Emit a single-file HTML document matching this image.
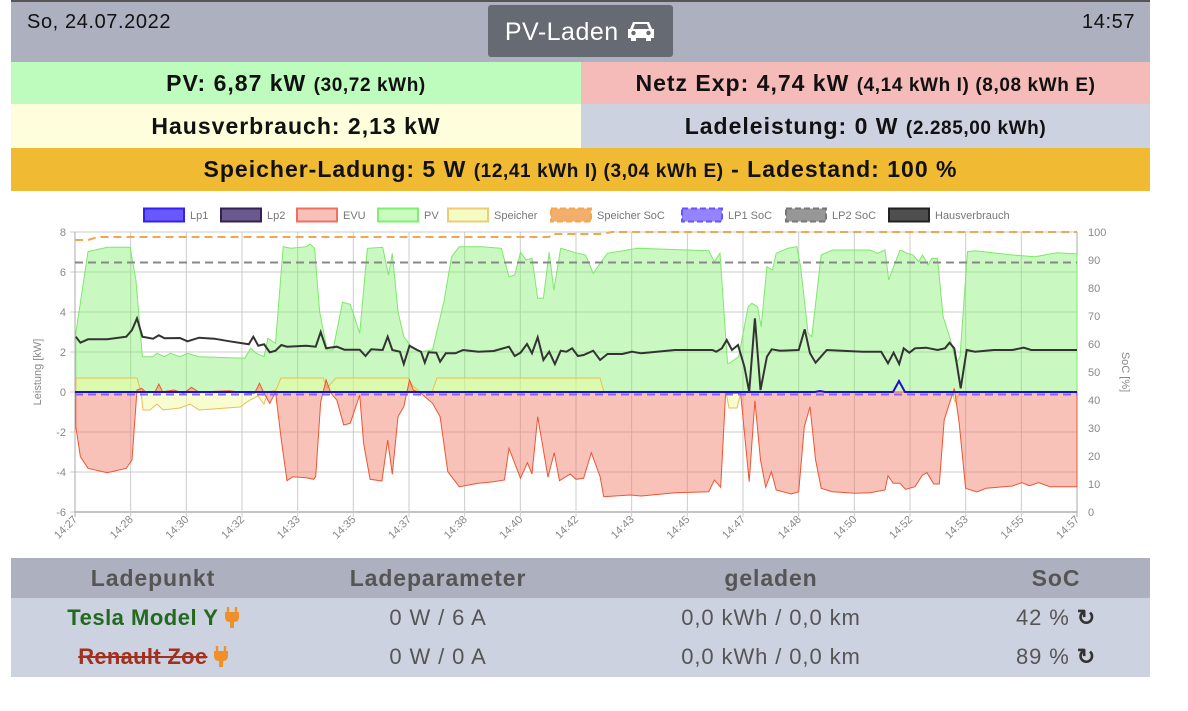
<!DOCTYPE html>
<html><head><meta charset="utf-8"><style>
*{margin:0;padding:0;box-sizing:border-box}
body{width:1188px;height:711px;background:#fff;font-family:"Liberation Sans",sans-serif;position:relative;overflow:hidden}
.abs{position:absolute}
.top{left:11px;top:0;width:1139px;height:62px;background:#adb1bf;border-top:2px solid #555}
.row{position:absolute;display:flex;align-items:center;justify-content:center;font-weight:bold;font-size:23px;letter-spacing:1px;color:#111;white-space:pre}
.row small{font-size:19px;letter-spacing:0.6px}
.th{position:absolute;top:558px;height:40px;line-height:40px;font-weight:bold;font-size:23px;letter-spacing:0.9px;color:#555;text-align:center}
.td{position:absolute;height:40px;line-height:40px;font-size:22px;letter-spacing:0.9px;color:#555;text-align:center}
</style></head><body>
<div class="abs top"></div>
<div class="abs" style="left:27px;top:11px;font-size:20px;letter-spacing:0.6px;color:#111">So, 24.07.2022</div>
<div class="abs" style="left:488px;top:5px;width:185px;height:52px;background:#666b73;border-radius:3px;color:#fff;font-size:25px;letter-spacing:0.5px;line-height:54px;text-align:center">PV-Laden <svg width="30" height="22" viewBox="0 0 30 22" style="vertical-align:-2px"><path d="M4 9 L7 2 H23 L26 9 H28 V18 H25 V21 H20 V18 H10 V21 H5 V18 H2 V9 Z" fill="#fff"/><path d="M9 4 H21 L23 9 H7 Z" fill="#666b73"/><circle cx="7.5" cy="13" r="2.2" fill="#666b73"/><circle cx="22.5" cy="13" r="2.2" fill="#666b73"/></svg></div>
<div class="abs" style="left:1082px;top:11px;font-size:20px;letter-spacing:0.6px;color:#111">14:57</div>
<div class="row" style="left:11px;top:62px;width:570px;height:42px;background:#bdfcbc"><span>PV: 6,87 kW <small>(30,72 kWh)</small></span></div>
<div class="row" style="left:581px;top:62px;width:569px;height:42px;background:#f5bbb8"><span>Netz Exp: 4,74 kW <small>(4,14 kWh I) (8,08 kWh E)</small></span></div>
<div class="row" style="left:11px;top:104px;width:570px;height:44px;background:#fefedc"><span>Hausverbrauch: 2,13 kW</span></div>
<div class="row" style="left:581px;top:104px;width:569px;height:44px;background:#cdd2e0"><span>Ladeleistung: 0 W <small>(2.285,00 kWh)</small></span></div>
<div class="row" style="left:11px;top:148px;width:1139px;height:43px;background:#f0bb33"><span>Speicher-Ladung: 5 W <small>(12,41 kWh I) (3,04 kWh E)</small> - Ladestand: 100 %</span></div>
<svg id="ch" class="abs" style="left:0;top:0" width="1188" height="711"></svg>
<div class="abs" style="left:11px;top:558px;width:1139px;height:40px;background:#adb1bf"></div>
<div class="abs" style="left:11px;top:598px;width:1139px;height:79px;background:#cdd2e0"></div>
<div class="th" style="left:53px;width:200px">Ladepunkt</div>
<div class="th" style="left:318px;width:240px">Ladeparameter</div>
<div class="th" style="left:671px;width:200px">geladen</div>
<div class="th" style="left:956px;width:200px">SoC</div>
<div class="td" style="left:20px;top:598px;width:266px;color:#236a1f;font-weight:bold;letter-spacing:0.5px;white-space:nowrap">Tesla Model Y <svg width="14" height="22" viewBox="0 0 14 22" style="vertical-align:-4px"><path d="M3 0 V5 M11 0 V5" stroke="#f0902a" stroke-width="2.4"/><path d="M0 5 H14 V10 Q14 15 9 15 V21 H5 V15 Q0 15 0 10 Z" fill="#f0902a"/></svg></div>
<div class="td" style="left:20px;top:637px;width:266px;color:#a0301f;font-weight:bold;letter-spacing:0.3px;white-space:nowrap"><s>Renault Zoe</s> <svg width="14" height="22" viewBox="0 0 14 22" style="vertical-align:-4px"><path d="M3 0 V5 M11 0 V5" stroke="#f0902a" stroke-width="2.4"/><path d="M0 5 H14 V10 Q14 15 9 15 V21 H5 V15 Q0 15 0 10 Z" fill="#f0902a"/></svg></div>
<div class="td" style="left:338px;top:598px;width:200px">0 W / 6 A</div>
<div class="td" style="left:338px;top:637px;width:200px">0 W / 0 A</div>
<div class="td" style="left:621px;top:598px;width:300px">0,0 kWh / 0,0 km</div>
<div class="td" style="left:621px;top:637px;width:300px">0,0 kWh / 0,0 km</div>
<div class="td" style="left:956px;top:598px;width:200px">42 % <b style="color:#333">↻</b></div>
<div class="td" style="left:956px;top:637px;width:200px">89 % <b style="color:#333">↻</b></div>
<script>
var X0=75,X1=1077;
function Y(kw){return 392-20*kw}
function z1(a){var r=[];for(var i=0;i<a.length;i+=2)r.push([a[i]/2.613,200+a[i+1]/3]);return r}
function z2(a){var r=[];for(var i=0;i<a.length;i+=2)r.push([600+a[i]/2.667,200+a[i+1]/3]);return r}
function z3(a){var r=[];for(var i=0;i<a.length;i+=2)r.push([a[i]/2.613,380+a[i+1]/3]);return r}
function z4(a){var r=[];for(var i=0;i<a.length;i+=2)r.push([600+a[i]/2.667,380+a[i+1]/3]);return r}
function clip(p){return p.map(function(q){return [Math.max(X0,Math.min(X1,q[0])),q[1]]})}
var pv=clip(z1([198,577,198,400,230,155,280,142,340,142,355,240,372,470,400,470,410,460,430,470,445,460,470,470,490,460,520,470,640,475,655,445,670,460,690,470,700,415,720,430,740,140,760,145,800,140,810,132,822,145,835,335,855,450,870,450,895,307,915,313,940,400,960,145,1000,142,1015,225,1025,160,1040,335,1055,410,1075,440,1100,455,1130,450,1160,305,1180,170,1200,140,1260,140,1310,145,1330,230,1345,225,1360,157,1375,180,1390,175,1405,295,1420,295,1435,157,1447,270,1465,145,1500,157,1530,165,1550,220,1568,190]).concat(z2([20,160,100,145,290,152,305,185,320,160,340,490,345,490,370,470,395,320,405,310,420,320,430,380,445,200,460,210,470,160,500,145,525,140,535,200,555,400,565,410,590,165,620,150,700,150,720,150,740,160,760,150,770,240,800,150,820,160,835,165,850,185,860,165,875,195,885,175,900,175,915,350,935,420,950,490,960,470,980,155,1000,152,1100,165,1160,170,1220,158,1273,162])));
var hv=clip(z1([198,410,210,428,230,418,280,418,330,410,345,390,358,355,372,410,400,416,415,406,430,415,470,414,490,424,520,413,560,416,600,424,650,433,662,410,675,437,690,433,705,457,720,452,735,435,750,440,800,437,825,440,838,396,852,445,880,440,900,449,940,449,955,468,970,448,1000,450,1013,410,1025,450,1045,455,1055,492,1070,437,1090,450,1100,455,1110,488,1120,457,1140,458,1150,485,1165,460,1190,460,1210,450,1250,455,1290,453,1330,440,1345,468,1360,458,1377,432,1390,460,1405,412,1420,480,1435,455,1450,492,1465,452,1480,455,1495,445,1510,468,1525,465,1550,452,1568,480]).concat(z2([20,462,60,462,85,455,110,460,200,450,300,450,310,455,325,445,338,420,352,450,368,435,385,500,398,575,413,355,428,570,445,470,458,448,480,452,530,450,546,388,560,460,575,488,605,450,700,455,750,455,768,490,783,458,798,492,810,445,825,458,840,445,870,443,900,450,920,445,932,428,945,445,962,565,978,450,1000,455,1050,450,1100,450,1130,443,1150,450,1273,450])));
var evu=clip(z3([198,140,210,230,230,265,280,278,330,265,345,240,358,30,370,25,380,35,405,36,415,12,425,35,455,30,480,40,500,22,520,36,600,32,640,38,665,40,678,10,690,40,705,70,720,36,735,180,750,302,765,290,800,293,820,298,825,290,838,65,852,0,865,40,880,60,898,135,915,130,940,45,950,190,967,298,998,303,1013,180,1025,283,1040,110,1055,80,1070,0,1080,30,1100,40,1130,70,1150,110,1170,275,1200,320,1250,310,1290,305,1318,300,1330,205,1360,295,1378,248,1390,282,1405,110,1432,292,1448,218,1462,302,1490,282,1505,298,1525,295,1545,218,1568,290]).concat(z4([10,350,80,345,110,348,200,338,290,335,305,300,322,322,335,40,375,40,398,305,413,62,428,240,442,322,457,275,470,330,510,342,530,335,545,140,560,80,575,240,590,325,620,335,680,340,720,338,760,330,768,287,782,310,800,310,815,328,840,320,860,285,872,278,890,312,905,312,918,120,945,25,958,130,975,325,1005,336,1030,325,1100,318,1125,308,1145,317,1170,308,1200,320,1273,320])));
var sp=[[76,.7],[137,.7],[141,0],[143,-.9],[150,-.9],[157,-.6],[163,-.9],[180,-.8],[190,-.6],[199,-.9],[240,-.75],[250,-.4],[258,-.2],[264,-.6],[268,0],[276,.1],[281,.7],[323,.7],[327,.2],[336,.7],[408,.7],[413,.3],[420,0],[432,0],[437,.7],[600,.7],[604,0],[726,0],[729,-.8],[737,-.8],[741,0],[952,0],[955,-.5],[960,0],[1077,0]].map(function(p){return [p[0],Y(p[1])]});
function pts(a){return a.map(function(p){return p[0].toFixed(1)+','+p[1].toFixed(1)}).join(' ')}
function area(a){return pts([[a[0][0],392]].concat(a).concat([[a[a.length-1][0],392]]))}
var s='';
for(var k=-6;k<=8;k+=2){var y=Y(k);s+='<line x1="'+X0+'" x2="'+X1+'" y1="'+y+'" y2="'+y+'" stroke="'+(k==-6?'#888':'#ccc')+'" stroke-width="1"/>';s+='<text x="66" y="'+(y+4)+'" text-anchor="end" font-size="11" fill="#888">'+k+'</text>';s+='<line x1="70" x2="'+X0+'" y1="'+y+'" y2="'+y+'" stroke="#ccc"/>'}
for(var p=0;p<=100;p+=10){var y=512-2.8*p;s+='<text x="1088" y="'+(y+4)+'" font-size="11" fill="#888">'+p+'</text>'}
var labs=['14:27','14:28','14:30','14:32','14:33','14:35','14:37','14:38','14:40','14:42','14:43','14:45','14:47','14:48','14:50','14:52','14:53','14:55','14:57'];
for(var i=0;i<labs.length;i++){var x=X0+i*(X1-X0)/18;s+='<line x1="'+x+'" x2="'+x+'" y1="232" y2="517" stroke="'+(i==0||i==18?'#aaa':'#ccc')+'"/>';s+='<text transform="translate('+(x+3)+',520) rotate(-45)" text-anchor="end" font-size="11" fill="#888">'+labs[i]+'</text>'}
s+='<polygon points="'+area(pv)+'" fill="rgba(120,240,100,0.4)" stroke="#7de86a" stroke-width="1"/>';
s+='<polygon points="'+area(sp)+'" fill="rgba(240,250,150,0.45)" stroke="#eebb55" stroke-width="1"/>';
s+='<polygon points="'+area(evu)+'" fill="rgba(240,120,100,0.45)" stroke="#ee5533" stroke-width="1"/>';
s+='<polyline points="'+pts([[75,240],[88,240],[98,237],[549,237],[552,234],[600,234],[612,232],[1077,232]])+'" fill="none" stroke="#f0a850" stroke-width="2" stroke-dasharray="8,5"/>';
s+='<line x1="75" x2="1077" y1="262.5" y2="262.5" stroke="#888" stroke-width="2" stroke-dasharray="8,5"/>';
s+='<line x1="75" x2="1077" y1="394.5" y2="394.5" stroke="#8866ff" stroke-width="2" stroke-dasharray="8,5"/>';
s+='<polyline points="'+pts([[75,392],[815,392],[820,391],[825,392],[893,392],[899,381],[905,392],[1077,392]])+'" fill="none" stroke="#1a0fcf" stroke-width="2"/>';
s+='<polyline points="'+pts(hv)+'" fill="none" stroke="#333" stroke-width="2"/>';
var L=[[144,'Lp1','rgba(90,70,255,.9)','#3322ee',0],[221,'Lp2','rgba(80,60,120,.85)','#332255',0],[297,'EVU','rgba(245,150,140,.6)','#f07060',0],[378,'PV','rgba(150,250,130,.5)','#80ee70',0],[448,'Speicher','rgba(240,250,170,.7)','#eecc77',0],[551,'Speicher SoC','rgba(240,160,80,.85)','#f0a850',1],[682,'LP1 SoC','rgba(130,110,255,.85)','#6655ff',1],[786,'LP2 SoC','rgba(140,140,140,.9)','#777',1],[889,'Hausverbrauch','rgba(70,70,70,.95)','#222',0]];
L.forEach(function(l){s+='<rect x="'+l[0]+'" y="208.5" width="40" height="13" fill="'+l[2]+'" stroke="'+l[3]+'" stroke-width="2"'+(l[4]?' stroke-dasharray="6,3"':'')+'/><text x="'+(l[0]+46)+'" y="219" font-size="11" fill="#777">'+l[1]+'</text>'});
s+='<text transform="translate(41,372) rotate(-90)" text-anchor="middle" font-size="11" fill="#888">Leistung [kW]</text>';
s+='<text transform="translate(1122,372) rotate(90)" text-anchor="middle" font-size="11" fill="#888">SoC [%]</text>';
document.getElementById('ch').innerHTML=s;
</script>
</body></html>
